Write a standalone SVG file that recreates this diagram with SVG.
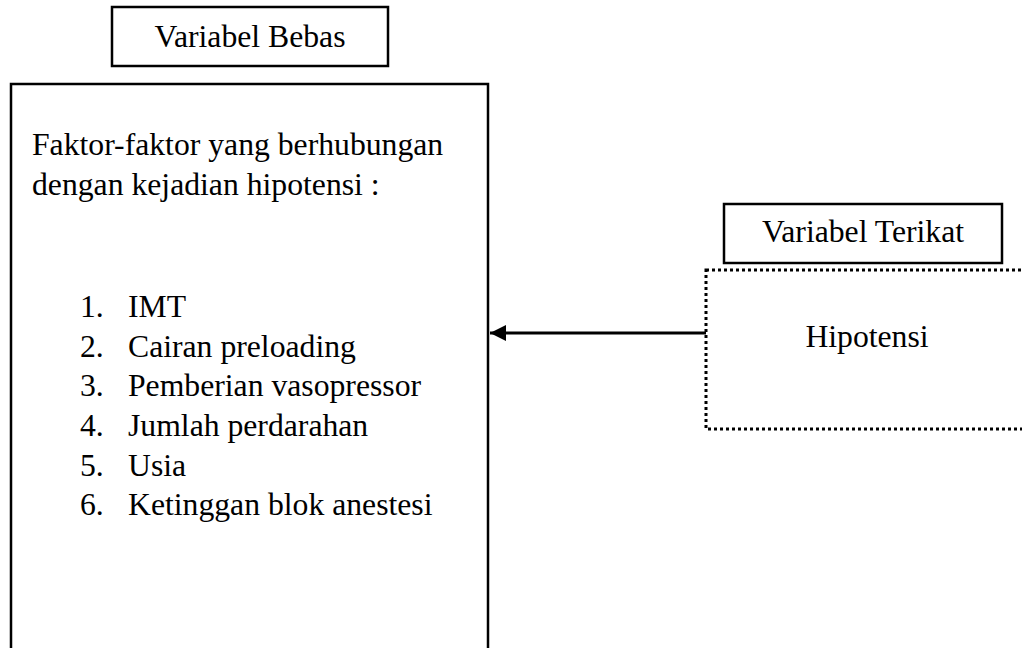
<svg xmlns="http://www.w3.org/2000/svg" width="1022" height="648" viewBox="0 0 1022 648">
<style>
text{font-family:"Liberation Serif","Times New Roman",serif;font-size:31.7px;fill:#000}
.box{fill:none;stroke:#000;stroke-width:2.5}
.dot{fill:none;stroke:#000;stroke-width:3;stroke-dasharray:3 3}
.mid{text-anchor:middle}
</style>
<defs>
<marker id="ah" markerUnits="userSpaceOnUse" markerWidth="16" markerHeight="16" refX="16" refY="8" orient="auto" viewBox="0 0 16 16">
<path d="M16,8 L0,0 L0,16 Z" fill="#000"/>
</marker>
</defs>
<rect width="1022" height="648" fill="#fff"/>
<g id="label-bebas">
<rect class="box" x="112" y="7" width="276" height="59"/>
<text class="mid" x="250" y="47">Variabel Bebas</text>
</g>
<g id="node-faktor">
<rect class="box" x="11" y="84" width="477" height="600"/>
<text x="32" y="155">Faktor-faktor yang berhubungan</text>
<text x="32" y="195">dengan kejadian hipotensi :</text>
<text x="80" y="317">1.</text><text x="128" y="317">IMT</text>
<text x="80" y="357">2.</text><text x="128" y="357">Cairan preloading</text>
<text x="80" y="396">3.</text><text x="128" y="396">Pemberian vasopressor</text>
<text x="80" y="436">4.</text><text x="128" y="436">Jumlah perdarahan</text>
<text x="80" y="476">5.</text><text x="128" y="476">Usia</text>
<text x="80" y="515">6.</text><text x="128" y="515">Ketinggan blok anestesi</text>
</g>
<g id="label-terikat">
<rect class="box" x="724" y="204" width="278" height="59"/>
<text class="mid" x="863" y="242">Variabel Terikat</text>
</g>
<g id="node-hipotensi">
<rect class="dot" x="706" y="270" width="340" height="159"/>
<text class="mid" x="867" y="347">Hipotensi</text>
</g>
<g id="connectors">
<line x1="706" y1="333" x2="490" y2="333" stroke="#000" stroke-width="3" marker-end="url(#ah)"/>
</g>
</svg>
